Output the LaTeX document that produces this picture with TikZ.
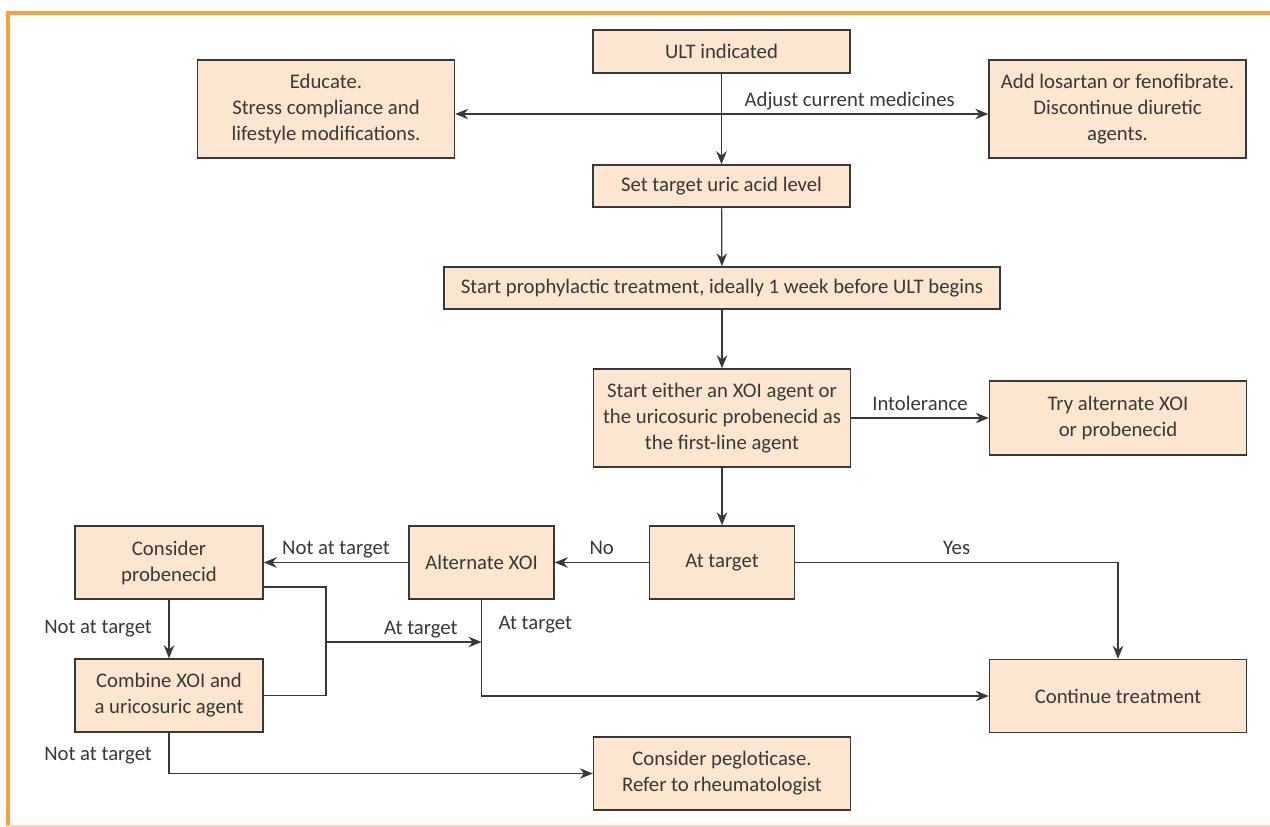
\documentclass[tikz,border=0pt]{standalone}
\usepackage{fontspec}
\setmainfont{Carlito}
\usetikzlibrary{arrows.meta, positioning}
\definecolor{boxfill}{HTML}{FDE6CF}
\definecolor{framecol}{HTML}{F6A33E}
\definecolor{framelight}{HTML}{FDD9AE}
\definecolor{inkgray}{HTML}{383838}

\begin{document}
\begin{tikzpicture}[x=0.02cm, y=-0.02cm, line width=0.7pt, draw=inkgray, >={Stealth[length=2.6mm, width=2.1mm]}, every node/.style={font=\fontsize{11.8}{14.8}\selectfont, text=inkgray}]
	\tikzstyle{box_style}=[rectangle, draw=inkgray, fill=boxfill, line width=0.85pt, align=center, inner sep=0pt, minimum width=51.4mm, minimum height=14.6mm]
	\tikzstyle{label_style}=[inner ysep=4pt, text depth=0pt]
	\tikzstyle{side_label}=[inner xsep=3.3mm]

	\useasboundingbox (0, 0) rectangle (1270, 827);

	% frame
	\draw[framecol, line width=1.9pt] (6, 13) -- (1270, 13);
	\draw[framecol, line width=2.2pt] (8, 12) -- (8, 826);
	\draw[framelight, line width=1.2pt] (7, 826) -- (1270, 826);

	% top row
	\node at (721.5, 51.5) [box_style, minimum height=8.6mm] (ult) {ULT indicated};
	\node at (326, 109) [box_style, minimum height=19.6mm] (educate) {Educate.\\Stress compliance and\\lifestyle modifications.};
	\node at (1117.5, 109) [box_style, minimum height=19.6mm] (losartan) {Add losartan or fenofibrate.\\Discontinue diuretic\\agents.};

	% main column
	\node at (721.5, 186) [box_style, minimum height=8.4mm] (set_target) {Set target uric acid level};
	\node at (722, 288) [box_style, minimum width=111.2mm, minimum height=8.4mm] (prophylaxis) {Start prophylactic treatment, ideally 1 week before ULT begins};
	\node at (722, 418) [box_style, minimum height=19.6mm] (first_line) {Start either an XOI agent or\\the uricosuric probenecid as\\the first-line agent};
	\node at (1118, 418) [box_style, minimum height=14.8mm] (try_alt) {Try alternate XOI\\or probenecid};
	\node at (722, 562.5) [box_style, minimum width=29mm] (at_target) {At target};

	% left branch
	\node at (481.5, 562.5) [box_style, minimum width=29mm] (alt_xoi) {Alternate XOI};
	\node at (169, 562.5) [box_style, minimum width=37.6mm] (probenecid) {Consider\\probenecid};
	\node at (169, 695.5) [box_style, minimum width=37.6mm] (combine) {Combine XOI and\\a uricosuric agent};

	% outcomes
	\node at (1118, 696) [box_style] (continue) {Continue treatment};
	\node at (722, 773.5) [box_style] (pegloticase) {Consider pegloticase.\\Refer to rheumatologist};
	\coordinate (join) at (326, 642);

	% connect: main column
	\draw[<->] ([yshift=-0.1cm]educate.east) -- node[above, label_style, pos=0.74] {Adjust current medicines} ([yshift=-0.1cm]losartan.west);
	\path[->] (ult) edge node[] {} (set_target);
	\path[->] (set_target) edge node[] {} (prophylaxis);
	\path[->] (prophylaxis) edge node[] {} (first_line);
	\path[->] (first_line) edge node[above, label_style, midway] {Intolerance} (try_alt);
	\path[->] (first_line) edge node[] {} (at_target);

	% connect: at target -> yes / no
	\draw[->] (at_target.east) -| node[above, label_style, pos=0.25] {Yes} (continue.north);
	\path[->] (at_target) edge node[above, label_style, midway] {No} (alt_xoi);

	% connect: alternate XOI
	\path[->] (alt_xoi) edge node[above, label_style, midway] {Not at target} (probenecid);
	\draw[->] (alt_xoi.south) |- node[right, side_label, pos=0.13] {At target} (continue.west);

	% connect: probenecid / combination
	\path[->] (probenecid) edge node[left, side_label, midway] {Not at target} (combine);
	\draw ([yshift=-0.49cm]probenecid.east) -| (join) |- (combine.east);
	\draw[->] (join) -- node[above, label_style, pos=0.61] {At target} (join -| alt_xoi.south);
	\draw[->] (combine.south) |- node[left, side_label, pos=0.28] {Not at target} (pegloticase.west);

\end{tikzpicture}
\end{document}
